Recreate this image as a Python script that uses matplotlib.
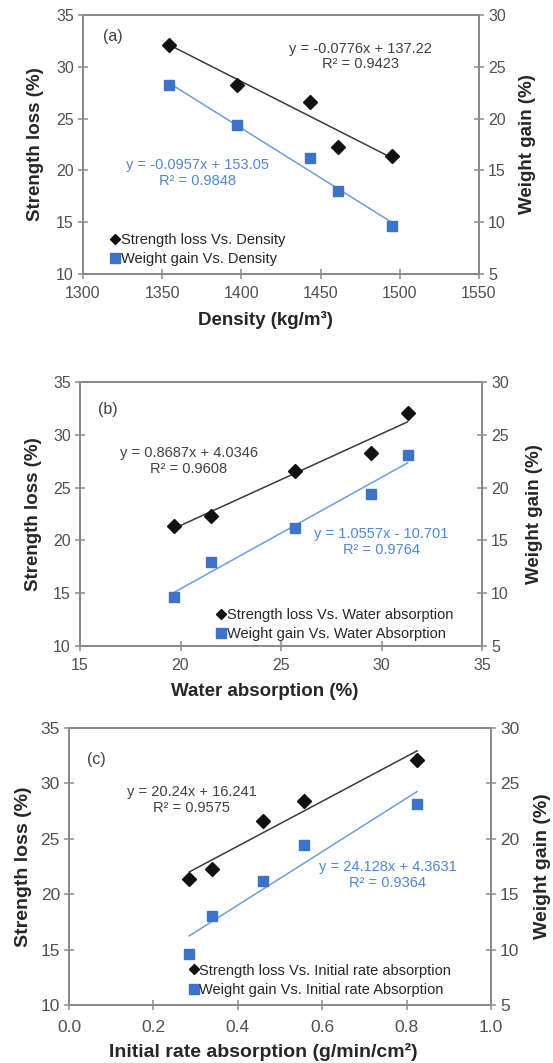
import matplotlib
matplotlib.use("Agg")
import matplotlib.pyplot as plt
import numpy as np
from matplotlib.lines import Line2D

plt.rcParams['font.family'] = ['Liberation Sans', 'DejaVu Sans']

# panel (a): density
density = [1354, 1397, 1443, 1461, 1495]
strength_a = [32.1, 28.2, 26.6, 22.3, 21.4]
weight_a = [23.2, 19.4, 16.2, 13.0, 9.6]

# panel (b): water absorption
water_abs = [19.7, 21.5, 25.7, 29.5, 31.3]
strength_b = [21.4, 22.3, 26.6, 28.3, 32.1]
weight_b = [9.6, 13.0, 16.2, 19.4, 23.1]

# panel (c): initial rate absorption
ira = [0.285, 0.34, 0.46, 0.556, 0.825]
strength_c = [21.4, 22.3, 26.6, 28.4, 32.1]
weight_c = [9.6, 13.0, 16.2, 19.4, 23.1]

# trend line coefficients as printed (slope, intercept)
fit_strength = [(-0.0776, 137.22), (0.8687, 4.0346), (20.24, 16.241)]
fit_weight = [(-0.0957, 153.05), (1.0557, -10.701), (24.128, 4.3631)]
eq_strength = ["y = -0.0776x + 137.22\nR² = 0.9423",
               "y = 0.8687x + 4.0346\nR² = 0.9608",
               "y = 20.24x + 16.241\nR² = 0.9575"]
eq_weight = ["y = -0.0957x + 153.05\nR² = 0.9848",
             "y = 1.0557x - 10.701\nR² = 0.9764",
             "y = 24.128x + 4.3631\nR² = 0.9364"]
legend_strength = ["Strength loss Vs. Density",
                   "Strength loss Vs. Water absorption",
                   "Strength loss Vs. Initial rate absorption"]
legend_weight = ["Weight gain Vs. Density",
                 "Weight gain Vs. Water Absorption",
                 "Weight gain Vs. Initial rate Absorption"]
xlabels = ["Density (kg/m³)", "Water absorption (%)",
           "Initial rate absorption (g/min/cm²)"]
panel_tags = ["(a)", "(b)", "(c)"]
xlims = [(1300, 1550), (15, 35), (0.0, 1.0)]
xticks = [np.arange(1300, 1551, 50), np.arange(15, 36, 5), np.arange(0, 1.01, 0.2)]
xfmt = ["{:.0f}", "{:.0f}", "{:.1f}"]

BLACK = '#111111'
TREND_K = '#3a3a3a'
BLUE = '#3d72c9'
TREND_B = '#6a9ee0'
EQ_BLUE = '#4f86d6'
SPINE = '#8a8a8a'
TICKC = '#505050'

W, H = 553, 1063
fig = plt.figure(figsize=(W / 100, H / 100), dpi=100)

# axes boxes in pixels: left, right, top, bottom
boxes = [(83, 479, 15, 274), (80, 482, 382, 646), (69, 491, 728, 1005)]
# text placement (axes fraction)
tag_pos = [(0.05, 0.917), (0.045, 0.897), (0.042, 0.888)]
eqs_pos = [(0.70, 0.84), (0.27, 0.70), (0.29, 0.74)]
eqw_pos = [(0.29, 0.39), (0.75, 0.395), (0.755, 0.47)]
leg_pos = [(0.07, 0.03), (0.34, 0.02), (0.285, 0.03)]
ylab_x = [(-0.0985, 1.101), (-0.0945, 1.109), (-0.0877, 1.102)]
xlab_y = [-0.143, -0.140, -0.136]
tick_size = [11.5, 11.5, 12.5]
label_size = [13.5, 13.5, 14]
xpad = [5, 5, 7]

datasets = [(density, strength_a, weight_a),
            (water_abs, strength_b, weight_b),
            (ira, strength_c, weight_c)]

for i, (x, ys, yw) in enumerate(datasets):
    l, r, t, b = boxes[i]
    ax = fig.add_axes([l / W, 1 - b / H, (r - l) / W, (b - t) / H])
    ax2 = ax.twinx()
    x = np.array(x)

    xx = np.array([x.min(), x.max()])
    m, c = fit_strength[i]
    ax.plot(xx, m * xx + c, color=TREND_K, lw=1.1, zorder=2)
    ax.plot(x, ys, 'D', color=BLACK, ms=7.5, mec=BLACK, zorder=3)
    m, c = fit_weight[i]
    ax2.plot(xx, m * xx + c, color=TREND_B, lw=1.1, zorder=2)
    ax2.plot(x, yw, 's', color=BLUE, ms=7, mec=BLUE, zorder=3)

    ax.set_xlim(*xlims[i])
    ax.set_ylim(10, 35)
    ax2.set_ylim(5, 30)
    ax.set_xticks(xticks[i])
    ax.set_xticklabels([xfmt[i].format(v) for v in xticks[i]])
    ax.set_yticks(np.arange(10, 36, 5))
    ax2.set_yticks(np.arange(5, 31, 5))

    for a in (ax, ax2):
        for s in a.spines.values():
            s.set_color(SPINE)
            s.set_linewidth(1.3)
        a.tick_params(direction='inout', length=7, width=1.1, color=SPINE,
                      labelsize=tick_size[i], labelcolor=TICKC, pad=3)
    ax.tick_params(axis='x', pad=xpad[i])

    ax.set_ylabel("Strength loss (%)", fontsize=label_size[i], fontweight='bold', color='#262626')
    ax2.set_ylabel("Weight gain (%)", fontsize=label_size[i], fontweight='bold', color='#262626')
    ax.set_xlabel(xlabels[i], fontsize=label_size[i], fontweight='bold', color='#262626')
    ax.yaxis.set_label_coords(ylab_x[i][0], 0.5)
    ax2.yaxis.set_label_coords(ylab_x[i][1], 0.5)
    ax.xaxis.set_label_coords(0.46, xlab_y[i])

    ax.text(*tag_pos[i], panel_tags[i], transform=ax.transAxes, fontsize=11.5,
            color='#404040', ha='left', va='center')
    ax.text(*eqs_pos[i], eq_strength[i], transform=ax.transAxes, fontsize=10.5,
            color='#404040', ha='center', va='center', linespacing=1.15)
    ax.text(*eqw_pos[i], eq_weight[i], transform=ax.transAxes, fontsize=10.5,
            color=EQ_BLUE, ha='center', va='center', linespacing=1.15)

    handles = [Line2D([], [], ls='', marker='D', color=BLACK, ms=5.5),
               Line2D([], [], ls='', marker='s', color=BLUE, ms=7)]
    ax2.legend(handles, [legend_strength[i], legend_weight[i]], loc='lower left',
               bbox_to_anchor=leg_pos[i], frameon=False, fontsize=10.5,
               handlelength=0.6, handletextpad=0.1, borderpad=0, borderaxespad=0,
               labelspacing=0.35, labelcolor='#262626')

fig.savefig("out.png", dpi=100)
